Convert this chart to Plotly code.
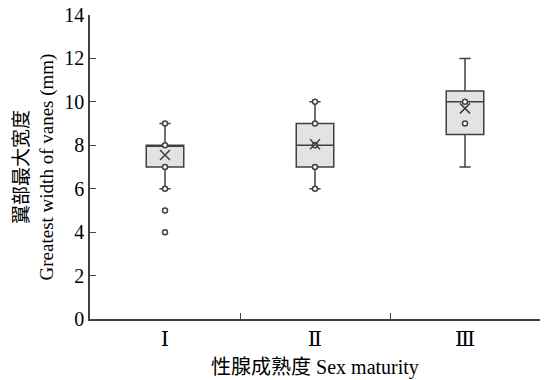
import plotly.graph_objects as go

groups = ["Ⅰ", "Ⅱ", "Ⅲ"]
q1 = [7, 7, 8.5]
median = [8, 8, 10]
q3 = [8, 9, 10.5]
lower = [6, 6, 7]
upper = [9, 10, 12]
means = [7.55, 8.05, 9.7]
points = {
    "Ⅰ": [9, 8, 7, 6, 5, 4],
    "Ⅱ": [10, 9, 8, 7, 6],
    "Ⅲ": [10, 9],
}

dark = "#404040"
serif = "Liberation Serif, Times New Roman, Noto Sans CJK SC, serif"

fig = go.Figure()
fig.add_trace(go.Box(
    x=groups, q1=q1, median=median, q3=q3,
    lowerfence=lower, upperfence=upper,
    fillcolor="#e5e2e5", line=dict(color=dark, width=1.5),
    width=0.25, whiskerwidth=0.3, boxpoints=False, showlegend=False,
    hoverinfo="skip",
))
px, py = [], []
for g in groups:
    for v in points[g]:
        px.append(g)
        py.append(v)
fig.add_trace(go.Scatter(
    x=px, y=py, mode="markers", showlegend=False,
    marker=dict(symbol="circle", size=5, color="white",
                line=dict(color=dark, width=1.5)),
))
fig.add_trace(go.Scatter(
    x=groups, y=means, mode="markers", showlegend=False,
    marker=dict(symbol="x-thin", size=10, line=dict(color=dark, width=1.5)),
))

fig.update_layout(
    width=544, height=380,
    margin=dict(l=90, r=4, t=15, b=61),
    plot_bgcolor="white", paper_bgcolor="white",
    font=dict(family=serif, size=20, color="black"),
    xaxis=dict(
        type="category", range=[-0.5, 2.5], tickson="boundaries",
        ticks="inside", ticklen=6, tickcolor=dark, showline=True,
        linecolor=dark, linewidth=1.5, showgrid=False, automargin=False,
        title=dict(text="性腺成熟度 Sex maturity", font=dict(size=20), standoff=10),
        tickfont=dict(size=21, family="DejaVu Serif, Liberation Serif, serif"),
    ),
    yaxis=dict(
        range=[0, 14], dtick=2, ticks="inside", ticklen=6, tickcolor=dark,
        showline=True, linecolor=dark, linewidth=1.5, showgrid=False,
        zeroline=False, automargin=False,
        tickfont=dict(size=20),
        title=dict(text="翼部最大宽度<br>Greatest width of vanes (mm)",
                   font=dict(size=19), standoff=6),
    ),
)

fig.write_html("out.html", config={"displayModeBar": False},
               post_script="document.body.style.margin='0';")
